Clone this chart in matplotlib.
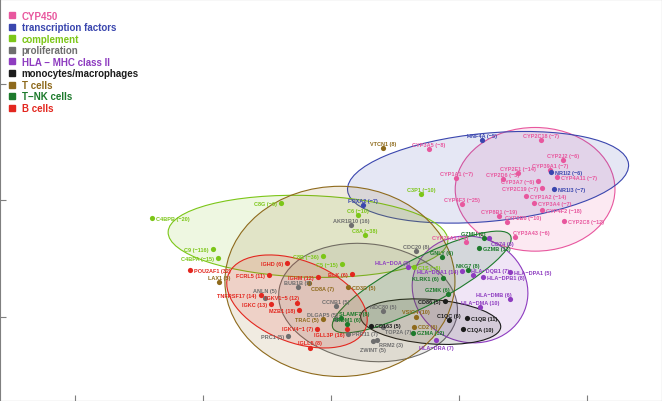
import matplotlib
matplotlib.use("Agg")
import matplotlib.pyplot as plt
from matplotlib.patches import Ellipse
from matplotlib.lines import Line2D

plt.rcParams['font.family'] = ['Liberation Sans', 'DejaVu Sans']

# CYP450
cyp_genes = ["CYP3A5 (−8)", "CYP2C18 (−7)", "CYP2J2 (−6)", "CYP39A1 (−7)", "CYP4A11 (−7)",
             "CYP2E1 (−14)", "CYP2D6 (−5)", "CYP1A1 (−7)", "CYP3A7 (−6)", "CYP2C19 (−7)",
             "CYP1A2 (−14)", "CYP3A4 (−7)", "CYP4F2 (−18)", "CYP4F3 (−25)", "CYP8B1 (−19)",
             "CYP2B6 (−10)", "CYP2C8 (−12)", "CYP26A1 (−5)", "CYP3A43 (−6)"]
cyp_x = [0.767, 1.644, 1.817, 1.715, 1.770, 1.464, 1.347, 0.979, 1.621, 1.652,
         1.527, 1.590, 1.652, 1.026, 1.316, 1.378, 1.825, 1.057, 1.441]
cyp_y = [0.438, 0.515, 0.343, 0.258, 0.197, 0.232, 0.180, 0.189, 0.163, 0.103,
         0.034, -0.026, -0.086, -0.034, -0.137, -0.189, -0.180, -0.361, -0.318]

# transcription factors
tf_genes = ["HNF4A (−5)", "NR1I2 (−6)", "NR1I3 (−7)", "FOXA2 (−7)"]
tf_x = [1.182, 1.723, 1.746, 0.251]
tf_y = [0.515, 0.240, 0.094, -0.043]

# complement
comp_genes = ["C4BPB (−20)", "C8G (−6)", "C9 (−116)", "C4BPA (−15)", "C8B (−36)",
              "C5 (−15)", "C6 (−10)", "C8A (−38)", "C3P1 (−10)", "C1S (−6)"]
comp_x = [-1.402, -0.392, -0.924, -0.885, -0.063, 0.086, 0.211, 0.266, 0.705, 0.650]
comp_y = [-0.155, -0.026, -0.421, -0.498, -0.481, -0.549, -0.129, -0.300, 0.052, -0.575]

# proliferation
prol_genes = ["AKR1B10 (16)", "CDC20 (8)", "BUB1B (5)", "ANLN (5)", "CCNB1 (5)", "DLGAP5 (5)",
              "NDC80 (5)", "PRR11 (7)", "ZWINT (5)", "RRM2 (3)", "TOP2A (7)", "PRC1 (5)"]
prol_x = [0.157, 0.666, -0.258, -0.517, 0.039, 0.039, 0.407, 0.133, 0.329, 0.360, 0.407, -0.337]
prol_y = [-0.215, -0.438, -0.747, -0.841, -0.910, -1.021, -0.953, -1.142, -1.210, -1.193, -1.082, -1.167]

# HLA - MHC class II
hla_genes = ["HLA−DOA (8)", "HLA−DQA1 (14)", "HLA−DQB1 (7)", "HLA−DPA1 (5)", "HLA−DPB1 (8)",
             "HLA−DMB (6)", "HLA−DMA (10)", "HLA−DRA (7)", "CD74 (6)"]
hla_x = [0.603, 1.026, 1.112, 1.402, 1.190, 1.402, 1.167, 0.822, 1.237]
hla_y = [-0.575, -0.609, -0.644, -0.618, -0.661, -0.850, -0.918, -1.193, -0.326]

# monocytes/macrophages
mono_genes = ["CD163 (5)", "CD86 (5)", "C1QC (6)", "C1QB (11)", "C1QA (10)"]
mono_x = [0.313, 0.893, 0.924, 1.065, 1.034]
mono_y = [-1.073, -0.867, -1.030, -1.013, -1.107]

# T cells
tc_genes = ["VTCN1 (8)", "LAX1 (5)", "CD8A (7)", "CD3D (5)", "TRAC (5)", "VSIG4 (10)", "CD2 (6)"]
tc_x = [0.407, -0.877, -0.172, 0.133, -0.063, 0.666, 0.650]
tc_y = [0.446, -0.704, -0.712, -0.747, -1.021, -0.996, -1.082]

# T-NK cells
nk_genes = ["GZMH (2)", "GZMB (13)", "GNLY (6)", "NKG7 (8)", "KLRK1 (6)", "GZMK (6)",
            "GZMA (12)", "SLAMF7 (8)", "PRDM1 (6)"]
nk_x = [1.198, 1.159, 0.869, 1.073, 0.877, 0.916, 0.642, 0.078, 0.125]
nk_y = [-0.326, -0.412, -0.489, -0.601, -0.670, -0.807, -1.133, -1.013, -1.064]

# B cells
b_genes = ["POU2AF1 (32)", "IGHD (6)", "FCRL5 (11)", "IGHM (12)", "BLK (6)", "TNFRSF17 (14)",
           "IGKV1−5 (12)", "MZB1 (18)", "IGKC (13)", "IGKV4−1 (7)", "IGLL3P (16)", "IGLL5 (8)"]
b_x = [-1.104, -0.345, -0.486, -0.102, 0.164, -0.548, -0.266, -0.251, -0.470, -0.110, 0.125, -0.164]
b_y = [-0.601, -0.541, -0.644, -0.661, -0.635, -0.815, -0.876, -0.944, -0.893, -1.099, -1.107, -1.262]

# label placement (layout only): a=above, b=below, r=right, l=left
cyp_pos = ["a", "a", "a", "a", "r", "a", "a", "a", "l", "l", "r", "r", "r", "a", "a", "ar", "r", "al", "ar"]
tf_pos = ["a", "r", "r", "a"]
comp_pos = ["r", "l", "l", "l", "l", "l", "a", "a", "a", "r"]
prol_pos = ["a", "a", "a", "a2", "a", "al", "a", "r", "b", "br", "br", "l"]
hla_pos = ["al", "l", "ar", "r", "r", "al", "a", "b", "br"]
mono_pos = ["r", "l", "a", "r", "r"]
tc_pos = ["a", "a", "br", "r", "l", "a", "r"]
nk_pos = ["al", "r", "a", "a", "l", "al", "r", "ar", "a"]
b_pos = ["r", "l", "l", "l", "l", "l", "al", "l", "l", "l", "bl", "a"]

groups = [
    ("CYP450", "#E8579E", cyp_genes, cyp_x, cyp_y, cyp_pos),
    ("transcription factors", "#3A46AE", tf_genes, tf_x, tf_y, tf_pos),
    ("complement", "#7CC618", comp_genes, comp_x, comp_y, comp_pos),
    ("proliferation", "#6E6E6E", prol_genes, prol_x, prol_y, prol_pos),
    ("HLA − MHC class II", "#8E3CC0", hla_genes, hla_x, hla_y, hla_pos),
    ("monocytes/macrophages", "#1C1C1C", mono_genes, mono_x, mono_y, mono_pos),
    ("T cells", "#8E6A1C", tc_genes, tc_x, tc_y, tc_pos),
    ("T−NK cells", "#1D7A2C", nk_genes, nk_x, nk_y, nk_pos),
    ("B cells", "#E3271F", b_genes, b_x, b_y, b_pos),
]

# ellipse per group: centre x, centre y, width, height, angle
ell = {
    "CYP450": (1.597, 0.094, 1.25, 1.06, 0),
    "transcription factors": (1.229, 0.197, 2.21, 0.755, 6),
    "complement": (-0.180, -0.309, 2.19, 0.70, -2),
    "proliferation": (0.29, -0.876, 1.41, 1.0, -10),
    "HLA − MHC class II": (1.088, -0.764, 0.88, 0.94, 40),
    "monocytes/macrophages": (0.78, -1.04, 1.10, 0.38, -5),
    "T cells": (0.070, -0.695, 1.80, 1.63, 0),
    "T−NK cells": (0.71, -0.70, 1.60, 0.40, 30),
    "B cells": (-0.266, -0.867, 1.17, 0.69, -25),
}

offs = {"a": (0, 5, "center"), "a2": (0, 8, "center"), "b": (0, -8, "center"),
        "r": (4, 0, "left"), "l": (-4, 0, "right"),
        "ar": (-2, 5, "left"), "al": (2, 5, "right"), "br": (2, -5, "left"), "bl": (-2, -5, "right")}

fig = plt.figure(figsize=(6.62, 4.02), dpi=100)
ax = fig.add_axes([0, 0, 1, 1])

for name, col, genes, xs, ys, pos in groups:
    cx, cy, w, h, ang = ell[name]
    ax.add_patch(Ellipse((cx, cy), w, h, angle=ang, facecolor=col, alpha=0.13, edgecolor="none"))
    ax.add_patch(Ellipse((cx, cy), w, h, angle=ang, facecolor="none", edgecolor=col, lw=0.8))

for name, col, genes, xs, ys, pos in groups:
    ax.scatter(xs, ys, s=14, color=col, zorder=3, linewidths=0)
    for g, x, y, p in zip(genes, xs, ys, pos):
        dx, dy, ha = offs[p]
        ax.annotate(g, (x, y), xytext=(dx, dy), textcoords="offset pixels",
                    ha=ha, va="center", fontsize=4.0, fontweight="bold", color=col, zorder=4)

handles = [Line2D([], [], marker="s", ls="none", color=c, markersize=4.2) for _, c, *_ in groups]
leg = ax.legend(handles, [g[0] for g in groups], loc="upper left", bbox_to_anchor=(0.004, 0.985),
                frameon=False, fontsize=7.0, handlelength=0.8, handletextpad=0.55,
                labelspacing=0.155, borderaxespad=0.3, borderpad=0.3)
for t, g in zip(leg.get_texts(), groups):
    t.set_color(g[1])
    t.set_fontweight("semibold")

ax.set_xlim(-2.59, 2.59)
ax.set_ylim(-1.72, 1.725)
ax.set_xticks([-2, -1, 0, 1, 2])
ax.set_yticks([-1, 0, 1])
ax.tick_params(direction="in", length=4.3, color="#7f7f7f", labelbottom=False, labelleft=False)
for s in ax.spines.values():
    s.set_color("#7f7f7f")

fig.savefig("out.png", dpi=100)
